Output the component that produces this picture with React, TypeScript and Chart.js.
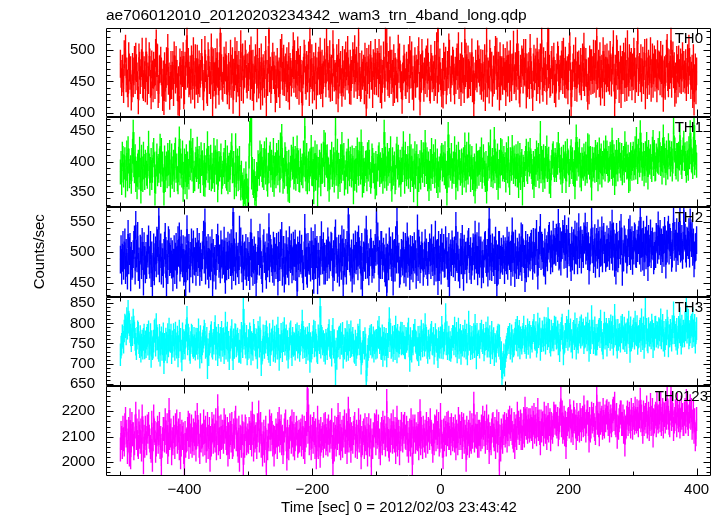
import React, { useEffect, useRef } from "react";
import { Chart, registerables } from "chart.js";

Chart.register(...registerables);

const TITLE = "ae706012010_20120203234342_wam3_trn_4band_long.qdp";
const X_LABEL = "Time [sec] 0 = 2012/02/03 23:43:42";
const Y_LABEL = "Counts/sec";

const START_TIME = -500;
const BIN_SEC = 1;

const TH0 = [
  478,462,449,470,455,438,493,481,502,455,466,447,431,490,472,459,468,426,439,473,447,466,484,452,489,471,458,444,420,488,475,452,463,479,497,445,441,468,460,439,
  497,471,435,458,452,490,480,446,428,477,461,439,475,464,444,495,510,457,487,430,438,469,470,483,466,448,425,461,419,474,456,440,482,466,503,451,458,427,443,476,
  444,459,476,433,491,468,453,484,462,441,418,452,405,480,467,445,476,463,490,428,436,475,459,494,523,462,481,447,451,469,437,485,470,443,498,460,429,487,464,451,
  486,438,452,477,447,462,473,495,468,442,426,456,500,471,461,437,433,490,479,452,459,444,504,468,414,480,448,457,481,429,465,496,462,450,435,474,527,458,471,443,
  440,467,483,452,472,491,451,436,455,473,428,459,494,446,470,482,421,464,457,498,466,439,492,455,448,476,417,463,509,441,474,488,437,469,462,493,478,454,445,472,
  457,475,486,443,499,460,441,478,426,453,468,487,470,439,512,465,445,481,453,427,488,458,434,471,461,446,476,500,416,462,449,484,532,455,467,438,452,474,489,460,
  475,452,423,469,438,481,461,447,466,430,495,472,503,459,450,486,449,468,472,441,482,455,439,490,427,473,465,448,461,479,506,454,493,462,447,476,444,499,480,435,
  470,484,455,438,412,461,467,494,486,452,443,476,455,470,491,433,517,463,460,487,437,456,474,442,468,489,428,466,450,475,483,451,497,444,452,478,431,460,469,496,
  463,447,511,472,484,458,446,493,440,467,470,441,509,480,456,462,458,436,487,470,423,495,464,453,476,449,432,484,448,461,479,443,491,474,458,500,466,453,436,478,
  435,462,468,490,479,446,501,471,456,483,444,458,528,449,473,440,444,477,459,464,470,436,489,457,407,481,452,468,486,445,471,492,459,466,430,479,474,451,495,463,
  450,481,476,447,495,468,438,485,429,454,462,491,467,440,515,472,511,459,449,476,446,499,478,452,478,462,433,487,438,473,466,445,463,439,502,470,488,461,455,444,
  421,458,469,486,472,449,444,475,455,464,487,438,500,477,461,491,443,452,426,469,482,446,470,462,463,484,498,443,418,471,454,495,477,458,440,466,452,480,485,447,
  496,473,459,441,437,486,473,455,469,460,441,492,449,470,506,437,534,455,467,480,458,448,431,465,429,489,475,457,483,436,450,476,461,504,494,452,440,469,466,483,
  478,450,436,467,452,481,488,459,506,444,462,472,433,490,470,453,466,438,517,463,489,471,445,485,446,460,474,449,471,496,439,467,414,441,458,478,462,455,493,470,
  485,464,451,479,443,456,478,440,459,487,425,470,518,447,466,461,437,494,481,456,475,432,448,469,452,484,500,459,497,443,463,475,426,490,442,466,468,451,487,459,
  458,481,433,462,491,448,470,477,439,493,456,441,472,466,508,452,455,474,442,488,510,459,476,437,431,470,463,485,480,453,495,466,464,495,429,472,447,460,474,444,
  503,468,460,445,425,472,486,458,469,480,441,497,452,463,479,437,488,471,516,450,440,482,457,466,476,455,435,490,533,461,470,446,449,476,484,453,466,489,438,462,
  431,456,472,491,484,443,455,469,458,477,492,452,497,465,446,483,445,460,468,436,471,489,506,458,410,447,459,472,486,463,441,498,460,440,475,467,477,454,450,481,
  442,470,488,457,505,449,464,481,463,440,427,466,436,485,479,451,479,468,452,494,454,473,493,446,522,459,461,478,447,490,434,462,470,445,498,471,433,486,467,455,
  488,463,456,477,451,492,472,448,467,483,509,456,415,470,444,501,494,459,476,438,459,485,430,468,476,452,489,474,440,497,462,441,509,466,448,487,457,475,481,442,
  472,458,497,481,438,466,455,492,531,449,468,473,455,487,440,464,483,452,474,495,428,461,496,444,466,478,451,469,498,440,463,488,446,472,485,456,479,463,439,493,
  458,477,475,450,492,468,447,486,424,461,468,443,470,494,503,457,447,479,460,469,515,446,478,491,461,474,432,458,437,484,471,447,485,463,454,480,452,472,490,455,
  476,461,453,479,441,465,487,452,502,481,467,444,459,470,430,487,418,455,472,436,466,
];

const TH1 = [
  383,397,366,412,405,378,391,403,362,389,414,372,421,401,377,384,390,368,402,417,448,395,385,408,371,381,359,393,399,375,420,386,352,407,388,371,412,392,374,399,
  394,381,376,405,430,393,365,387,402,374,386,411,418,395,349,368,396,409,380,392,386,401,425,379,418,388,396,370,349,406,371,389,396,377,410,398,380,415,362,383,
  409,376,388,399,371,410,419,386,393,372,367,404,437,382,401,393,378,414,355,379,401,367,392,408,359,396,384,375,414,390,433,402,388,418,369,381,372,395,404,387,
  420,392,376,405,384,369,411,397,398,382,364,410,363,378,390,401,429,386,405,374,391,407,372,394,376,385,418,371,406,399,383,416,354,380,397,388,395,409,367,376,
  381,395,402,384,415,377,373,406,367,389,394,371,398,412,426,385,386,397,359,378,426,364,389,401,372,389,405,374,357,381,362,358,345,369,351,347,380,360,340,352,
  338,409,446,452,471,375,387,366,361,384,349,356,342,379,372,398,392,381,414,396,408,387,378,402,374,413,401,383,419,372,363,394,385,406,412,378,399,390,371,418,
  363,389,395,377,410,398,382,415,389,370,427,393,441,402,368,386,376,411,404,380,397,368,355,399,353,378,389,407,404,391,420,375,384,405,373,393,422,384,398,371,
  370,401,387,382,393,377,414,395,458,388,372,410,367,385,396,372,401,396,423,381,380,404,351,392,414,373,390,408,346,387,378,399,395,364,409,384,386,412,431,379,
  427,398,394,408,372,386,355,375,399,391,412,379,383,403,370,395,463,381,398,417,360,394,384,371,408,385,428,399,389,410,365,382,375,396,401,368,417,390,380,404,
  392,378,406,389,351,402,373,384,405,370,419,396,381,412,397,383,432,391,362,405,369,380,386,397,398,372,411,388,415,399,379,368,377,409,402,385,394,376,359,397,
  365,392,388,406,411,379,395,384,386,402,368,393,448,377,404,388,373,410,381,396,402,385,421,372,355,403,390,381,396,367,374,409,420,391,407,378,382,399,363,386,
  404,387,429,398,368,412,392,380,391,405,376,393,425,371,408,389,379,401,354,383,413,376,397,408,337,392,371,385,398,375,415,394,386,411,400,379,431,397,384,403,
  372,396,356,381,400,373,418,392,384,408,395,377,416,386,369,401,361,379,388,370,393,406,410,388,407,395,382,413,376,381,349,397,444,378,402,393,389,410,376,385,
  396,384,421,395,358,407,383,372,412,390,399,381,385,401,366,394,403,378,427,389,370,412,391,383,427,396,408,371,391,405,374,387,364,393,352,380,409,376,397,398,
  381,399,404,387,419,376,386,408,395,381,371,397,352,372,389,411,406,393,432,379,388,402,377,390,436,385,401,396,374,409,358,384,399,377,418,398,416,388,392,405,
  387,395,370,411,402,385,421,378,366,403,397,389,423,398,384,406,393,380,408,392,378,413,361,386,410,374,395,400,349,391,387,379,397,405,417,388,384,412,403,396,
  418,401,392,384,375,397,361,388,400,379,414,403,389,410,377,392,446,385,405,399,371,408,386,376,405,393,422,387,392,404,368,381,361,390,399,409,413,395,387,402,
  394,387,411,399,428,410,402,391,383,404,369,385,407,396,393,413,369,388,417,401,398,379,384,406,416,392,403,384,380,398,359,411,440,389,412,403,396,417,378,394,
  372,403,394,389,409,396,381,412,391,385,426,399,424,391,405,378,357,404,388,394,403,386,415,407,387,411,372,392,419,383,401,409,378,397,391,414,401,388,422,400,
  414,397,386,405,388,412,407,392,435,381,394,408,366,399,380,415,399,388,418,401,411,394,389,410,382,398,405,386,429,403,412,391,393,407,369,395,372,411,398,389,
  405,412,390,398,421,391,436,408,384,417,402,395,447,402,411,389,396,410,380,397,413,386,428,404,375,415,401,399,408,392,387,420,431,397,415,388,389,409,404,401,
  418,399,429,411,397,405,383,418,440,394,409,402,382,414,399,391,426,408,414,396,404,413,388,401,465,422,419,397,391,410,410,388,412,406,443,415,399,392,406,419,
  430,405,411,397,386,413,398,389,421,408,447,416,403,401,392,420,459,398,415,407,394,
];

const TH2 = [
  488,505,470,491,512,478,495,516,471,499,483,462,530,487,502,509,459,494,478,481,497,512,521,470,545,498,490,527,476,485,463,506,503,479,517,494,452,510,486,472,
  494,479,506,498,521,487,480,512,466,495,449,476,508,469,492,503,482,519,515,486,560,474,497,508,470,492,484,465,499,511,525,481,446,497,471,520,515,484,489,501,
  480,497,459,483,505,471,493,509,463,488,520,499,526,475,487,514,491,482,505,468,474,503,451,490,538,477,496,507,457,494,482,516,500,472,513,486,485,501,468,493,
  517,484,497,509,468,493,482,476,495,512,529,488,549,470,503,496,478,507,464,483,503,477,491,515,440,499,475,486,489,462,507,494,524,505,481,490,472,513,498,480,
  498,486,519,473,455,501,477,494,511,479,496,508,484,515,462,489,566,476,500,492,469,510,488,482,493,471,537,499,518,488,474,506,461,493,495,478,507,468,483,502,
  476,494,461,510,532,482,499,468,488,503,471,491,450,478,486,512,502,485,524,497,479,471,457,506,515,489,495,477,463,508,482,493,541,474,506,499,490,484,473,511,
  468,502,491,479,509,487,452,511,494,476,515,495,527,468,483,504,457,492,470,513,486,481,502,469,520,497,489,508,472,485,511,477,499,514,476,490,436,503,494,482,
  513,491,487,506,481,472,461,495,540,483,508,470,465,509,492,486,496,475,518,497,478,512,455,488,523,479,497,504,454,493,481,468,504,486,528,499,487,510,470,493,
  470,489,498,476,518,503,480,495,492,511,509,484,459,497,476,519,531,488,502,473,483,506,467,492,506,478,521,500,447,515,485,482,499,470,512,494,562,508,490,485,
  475,498,457,482,508,470,489,513,487,494,511,477,521,502,496,488,462,509,448,476,495,491,516,479,537,505,480,492,469,484,500,515,501,473,484,496,480,489,507,501,
  571,503,526,486,458,497,479,512,512,479,493,501,490,474,467,508,434,491,489,477,518,495,503,483,476,510,452,497,499,475,520,488,551,506,488,493,465,470,482,499,
  497,485,511,472,482,509,467,496,526,481,501,490,461,505,478,487,504,474,492,510,488,497,463,484,539,476,514,503,472,489,495,511,493,468,482,495,515,486,500,479,
  468,494,487,508,500,479,523,491,484,503,469,486,529,475,497,499,453,512,476,488,507,470,516,493,491,507,481,482,520,496,502,478,466,509,445,491,498,484,513,502,
  482,497,503,476,543,492,489,511,475,483,464,500,509,487,522,479,460,506,487,494,495,472,501,513,517,489,478,502,471,485,493,508,502,478,529,495,488,510,469,487,
  526,481,498,503,464,495,481,472,498,510,512,489,483,499,467,516,555,477,506,493,476,508,490,484,503,471,519,497,445,490,470,512,512,479,488,501,490,486,505,496,
  471,502,492,487,519,478,503,511,494,496,468,505,534,483,510,492,466,514,487,479,501,495,479,508,485,490,526,476,523,500,497,489,458,512,474,497,507,482,494,503,
  492,509,514,495,478,517,491,488,516,502,530,483,462,511,497,520,540,494,511,507,496,485,483,516,470,499,505,492,511,522,527,506,487,513,498,490,529,503,504,517,
  501,524,519,507,548,493,496,518,485,511,512,530,522,496,538,509,497,522,481,515,534,500,509,491,476,519,493,510,515,487,529,504,503,526,487,512,541,497,513,520,
  488,514,507,497,526,521,542,503,509,527,494,510,470,492,503,516,552,505,518,489,499,523,481,508,517,496,531,512,482,519,499,501,536,490,520,525,505,511,491,498,
  521,499,508,517,494,528,513,504,547,493,526,514,483,508,470,525,511,490,497,512,529,503,540,518,468,497,492,521,516,506,505,488,500,515,532,502,538,494,511,520,
  486,512,503,526,523,498,497,514,507,520,529,503,558,491,515,517,493,529,484,508,519,495,537,513,476,522,500,506,531,497,512,518,510,487,494,511,497,525,522,504,
  544,511,518,530,502,516,489,507,520,499,535,521,480,513,506,528,537,503,524,517,512,491,498,525,566,509,527,514,491,533,509,502,527,518,551,506,509,522,496,511,
  569,527,524,506,498,519,517,512,533,498,549,524,515,531,501,516,482,495,508,509,520,
];

const TH3 = [
  722,741,748,769,765,753,781,796,792,774,812,788,830,803,797,780,771,757,789,772,808,791,776,760,748,737,763,779,775,752,742,767,731,746,756,738,760,771,739,754,
  742,763,770,748,779,737,751,772,718,755,737,741,756,780,784,746,797,761,762,739,733,770,721,752,764,735,749,774,702,748,735,761,751,729,772,744,786,758,755,771,
  727,754,743,772,758,735,776,749,741,766,719,742,781,758,760,731,709,774,738,757,752,738,769,783,815,749,771,762,735,728,752,771,768,745,740,763,744,736,761,750,
  760,738,784,752,716,767,739,729,749,756,766,781,773,740,744,763,690,734,722,748,754,769,777,743,738,758,751,775,792,736,763,751,722,770,741,747,763,733,778,760,
  745,762,727,749,801,738,764,776,733,753,712,741,759,766,782,735,712,759,740,772,770,744,756,761,748,730,731,757,728,775,767,742,836,763,772,750,741,768,724,737,
  757,741,774,765,724,752,748,735,783,770,760,746,739,759,715,778,766,743,789,756,697,728,734,769,751,740,768,753,779,764,747,737,730,772,722,749,758,761,781,733,
  744,766,730,751,769,738,788,760,710,745,742,773,755,732,776,757,787,748,759,769,736,755,716,738,761,774,779,742,722,763,745,751,748,736,770,759,774,741,753,768,
  733,749,758,771,806,740,765,756,742,762,727,745,764,736,751,773,705,750,731,739,752,767,781,744,778,758,746,731,727,769,760,752,843,741,768,763,749,755,733,747,
  726,758,749,737,761,770,782,745,740,753,721,768,785,741,757,729,668,736,713,755,744,762,766,739,772,751,750,775,716,744,738,760,757,733,779,748,735,770,759,742,
  779,745,752,763,746,731,728,756,722,740,748,771,765,749,783,737,701,724,730,752,753,738,762,746,655,697,718,735,742,760,767,749,770,741,745,764,731,752,756,738,
  758,741,779,765,790,752,761,738,737,769,720,751,763,736,747,760,719,748,742,775,812,757,773,740,745,766,733,752,768,737,791,759,729,770,754,743,752,764,776,749,
  775,752,749,768,740,739,763,755,761,774,786,744,708,762,737,731,755,749,770,771,783,756,752,738,734,765,722,747,766,736,781,757,744,772,760,746,797,758,763,740,
  728,756,745,739,759,771,778,750,748,763,726,744,772,758,755,735,717,762,741,753,764,740,790,769,739,751,758,774,822,749,777,737,751,766,735,752,733,741,760,768,
  767,749,788,762,744,775,729,751,786,740,759,770,725,755,746,768,759,743,781,758,738,771,724,748,803,760,768,737,750,765,739,754,772,742,795,761,714,773,747,752,
  756,741,773,764,781,757,752,770,734,749,760,776,762,743,789,758,743,767,727,751,778,739,756,762,722,748,744,731,754,766,771,745,769,738,712,727,664,689,703,722,
  696,718,732,741,748,760,765,752,773,738,750,769,731,757,744,748,761,775,783,759,790,746,767,780,739,764,758,751,766,773,791,757,752,768,740,762,784,750,771,778,
  741,768,763,756,777,782,795,764,760,777,743,753,798,767,774,786,735,761,757,779,769,758,788,771,751,787,776,762,812,769,783,754,746,781,759,766,773,759,791,775,
  788,763,766,779,749,771,732,758,775,787,796,764,724,751,755,773,767,790,782,760,806,768,773,784,756,757,741,775,780,762,799,770,738,785,762,753,771,778,789,766,
  794,771,775,784,752,766,768,788,776,759,799,773,733,781,752,764,817,776,781,752,763,789,748,770,748,762,771,781,785,767,806,778,758,750,739,772,801,763,774,785,
  746,772,767,785,779,760,794,777,765,791,748,768,820,774,782,759,741,783,760,770,772,756,791,779,795,764,763,788,757,771,774,752,784,776,803,767,730,789,759,765,
  769,781,786,763,803,775,771,792,750,766,768,780,786,757,809,773,762,789,740,768,838,776,785,759,754,787,772,770,777,764,796,781,742,773,761,790,791,768,778,775,
  766,787,784,771,809,764,781,795,758,778,745,762,783,774,806,788,744,769,769,783,774,758,792,776,826,791,777,770,761,785,750,766,790,779,812,772,751,793,768,780,
  781,769,802,784,845,778,790,808,764,772,779,791,796,767,812,781,770,795,753,776,787,
];

const TH0123 = [
  2050,2115,2095,2060,2135,2090,2070,2145,2170,2105,2120,2040,2085,2130,2030,2165,2020,2085,2150,2110,2110,2055,2075,2140,2190,2095,2125,2070,2060,2160,2100,2080,2125,2050,2180,2120,2000,2100,2065,2135,
  2095,2075,2140,2120,2150,2100,2085,2060,2045,2155,2010,2090,2180,2125,2115,2045,2070,2110,2135,2080,2115,2150,2060,2095,1985,2065,2090,2130,2130,2085,2165,2115,2080,2145,2040,2070,2205,2095,2105,2125,
  2035,2090,2075,2135,2100,2060,2145,2110,2160,2080,2095,2125,2055,2150,2020,2070,2120,2095,2110,2040,1975,2115,2065,2085,2090,2130,2155,2060,2145,2105,2080,2140,2065,2090,2125,2075,2110,2155,2050,2100,
  2185,2110,2120,2065,2040,2145,2085,2100,2105,2070,2160,2120,2075,2135,2045,2090,2150,2060,2100,2130,2010,2095,2070,2150,2125,2080,2140,2105,2085,2165,2055,2115,2220,2075,2135,2090,2060,2140,2095,2120,
  2100,2080,2165,2120,2140,2095,2075,2130,2030,2110,2060,2145,2115,2085,2150,2060,2070,2125,2100,2155,2175,2090,2125,2070,2045,2135,2010,2100,2095,2065,2140,2115,1990,2110,2065,2140,2130,2075,2085,2105,
  2080,2130,2115,2095,2155,2070,2190,2115,2050,2140,2085,2100,2110,2060,2145,2125,2195,2085,2120,2150,2065,2110,2030,2075,2120,2045,2095,2135,1960,2080,2055,2105,2090,2160,2135,2090,2145,2115,2070,2100,
  2030,2095,2080,2125,2105,2060,2150,2110,2170,2085,2115,2140,2075,2100,2040,2075,2125,2145,2160,2090,2015,2120,2090,2055,2100,2130,2135,2080,2160,2105,2070,2150,2055,2090,2110,2135,2115,2065,2080,2120,
  2085,2110,2125,2070,2140,2095,2060,2135,2040,2115,2105,2150,2290,2120,2180,2075,2095,2140,2055,2100,2130,2080,2150,2115,2060,2125,2020,2090,2175,2060,2120,2105,2025,2130,2085,2095,2110,2065,2145,2100,
  2150,2075,2090,2125,2070,2140,2115,2085,2120,2100,2165,2060,1995,2110,2050,2135,2100,2070,2130,2095,2185,2120,2075,2150,2055,2090,2120,2065,2135,2105,2160,2080,2080,2145,2040,2115,2210,2085,2105,2130,
  2045,2110,2095,2080,2115,2135,2150,2065,2090,2120,2060,2100,2165,2085,2120,2140,2020,2095,2075,2115,2125,2060,2145,2090,2075,2130,2030,2105,2145,2070,2100,2125,1980,2085,2060,2110,2105,2145,2140,2075,
  2160,2100,2115,2140,2060,2085,2035,2110,2130,2075,2155,2120,2095,2135,2070,2105,2240,2090,2130,2065,2050,2125,2085,2145,2115,2080,2160,2100,2085,2130,2040,2110,2175,2070,2120,2095,2035,2120,2090,2150,
  2110,2085,2140,2120,2150,2100,2095,2135,2070,2115,2045,2090,2125,2070,2165,2105,1990,2140,2080,2125,2140,2080,2110,2095,2090,2150,2055,2110,2200,2075,2130,2100,2060,2135,2105,2085,2120,2065,2150,2115,
  2080,2130,2125,2095,2165,2120,2110,2080,2045,2105,2075,2140,2135,2090,2160,2115,2100,2150,2070,2085,2185,2100,2120,2065,2020,2125,2090,2135,2115,2070,2150,2110,2155,2095,2095,2130,2075,2145,2110,2090,
  2130,2105,2085,2140,2055,2120,2105,2075,2170,2095,2140,2115,2095,2150,2060,2130,2145,2080,2120,2100,2010,2135,2075,2110,2120,2065,2155,2090,2080,2145,2100,2125,2230,2085,2140,2105,2100,2150,2065,2120,
  2065,2120,2110,2090,2140,2100,2175,2135,2110,2155,2080,2115,2180,2095,2125,2140,2040,2110,2095,2075,2125,2145,2150,2105,2090,2130,2060,2120,2160,2085,2115,2150,1965,2100,2050,2125,2105,2080,2140,2115,
  2150,2105,2120,2145,2085,2130,2160,2110,2175,2140,2130,2165,2115,2100,2085,2150,2060,2125,2140,2095,2190,2135,2155,2115,2130,2160,2095,2145,2095,2120,2170,2105,2210,2150,2135,2170,2120,2140,2165,2125,
  2165,2140,2130,2175,2100,2155,2185,2120,2140,2170,2110,2145,2205,2130,2160,2115,2075,2160,2125,2150,2155,2110,2190,2140,2120,2175,2095,2135,2185,2125,2150,2165,2090,2150,2135,2120,2145,2190,2180,2155,
  2180,2150,2140,2170,2110,2135,2165,2190,2250,2145,2195,2120,2135,2175,2110,2155,2060,2130,2150,2165,2170,2140,2200,2180,2125,2160,2145,2115,2195,2170,2160,2140,2095,2185,2130,2150,2155,2125,2185,2165,
  2130,2165,2175,2145,2215,2180,2150,2125,2160,2195,2195,2150,2085,2170,2125,2140,2190,2160,2170,2185,2145,2130,2115,2175,2265,2155,2190,2145,2110,2190,2155,2165,2175,2135,2205,2150,2140,2180,2165,2195,
  2200,2175,2150,2190,2125,2160,2180,2145,2165,2200,2210,2170,2230,2155,2145,2185,2100,2140,2135,2165,2180,2195,2195,2150,2150,2180,2120,2160,2070,2135,2140,2175,2195,2150,2170,2190,2160,2140,2205,2170,
  2135,2185,2175,2155,2210,2170,2160,2200,2170,2145,2195,2180,2245,2165,2180,2150,2120,2195,2150,2175,2185,2160,2215,2140,2155,2190,2130,2170,2225,2150,2175,2205,2105,2165,2160,2180,2190,2145,2230,2175,
  2160,2180,2195,2165,2230,2150,2170,2205,2140,2190,2185,2160,2200,2175,2250,2195,2175,2155,2145,2210,2280,2170,2200,2185,2130,2160,2170,2200,2195,2145,2225,2180,2165,2195,2140,2165,2215,2175,2185,2150,
  2150,2190,2205,2160,2240,2185,2175,2150,2180,2200,2220,2175,2205,2135,2160,2195,2120,2165,2090,2110,2170,
];

// 1-sigma error bar half-length (counts/sec) of each 1 s bin, one per band
const BAND_ERRORS = [21.5, 19.8, 22.3, 27.4, 45.8];

const BAND_NAMES = ["TH0", "TH1", "TH2", "TH3", "TH0123"];
const BAND_VALUES = [TH0, TH1, TH2, TH3, TH0123];
const BAND_COLORS = ["#ff0000", "#00ff00", "#0000ff", "#00ffff", "#ff00ff"];
const Y_MIN = [393.2, 326.1, 427.4, 643.3, 1946];
const Y_MAX = [535.2, 472.2, 574.3, 866.6, 2298];
const Y_STEP = [50, 50, 50, 50, 100];
const X_MIN = -522.5;
const X_MAX = 422.5;
const X_MAJOR = 200;
const X_MINOR = 100;

const FONT = "'Liberation Sans', Arial, Helvetica, sans-serif";

const fmt = (v: number) => String(v).replace("-", "\u2212");

const qdpPlugin = {
  id: "qdpFrames",
  beforeDatasetDraw(chart: any, args: any) {
    const ds = chart.data.datasets[args.index];
    const s = chart.scales[ds.yAxisID];
    const ca = chart.chartArea;
    const ctx = chart.ctx;
    ctx.save();
    ctx.beginPath();
    ctx.rect(ca.left, s.top, ca.right - ca.left, s.bottom - s.top);
    ctx.clip();
  },
  afterDatasetDraw(chart: any) {
    chart.ctx.restore();
  },
  afterDraw(chart: any) {
    const ctx = chart.ctx;
    const ca = chart.chartArea;
    const xs = chart.scales.x;
    ctx.save();
    ctx.strokeStyle = "#000";
    ctx.lineWidth = 1;
    BAND_NAMES.forEach((name, k) => {
      const s = chart.scales["y" + k];
      const top = Math.round(s.top) + 0.5;
      const bot = Math.round(s.bottom) - 0.5;
      const l = Math.round(ca.left) + 0.5;
      const r = Math.round(ca.right) - 0.5;
      ctx.beginPath();
      ctx.rect(l, top, r - l, bot - top);
      ctx.stroke();
      const step = Y_STEP[k];
      const minor = step / 5;
      ctx.beginPath();
      for (let v = Math.ceil(Y_MIN[k] / minor) * minor; v <= Y_MAX[k]; v += minor) {
        const y = Math.round(s.getPixelForValue(v)) + 0.5;
        const isMajor = Math.abs(v / step - Math.round(v / step)) < 1e-6;
        const len = isMajor ? 7 : 4;
        ctx.moveTo(l, y);
        ctx.lineTo(l + len, y);
        ctx.moveTo(r, y);
        ctx.lineTo(r - len, y);
      }
      for (let v = Math.ceil(X_MIN / X_MINOR) * X_MINOR; v <= X_MAX; v += X_MINOR) {
        const x = Math.round(xs.getPixelForValue(v)) + 0.5;
        const isMajor = Math.abs(v % X_MAJOR) < 1e-6;
        const len = isMajor ? 7 : 4;
        ctx.moveTo(x, top);
        ctx.lineTo(x, top + len);
        ctx.moveTo(x, bot);
        ctx.lineTo(x, bot - len);
      }
      ctx.stroke();
      ctx.fillStyle = "#000";
      ctx.font = "15px " + FONT;
      ctx.textAlign = "right";
      ctx.textBaseline = "middle";
      ctx.fillText(name, k === 4 ? 708 : 703, s.top + 11);
    });
    ctx.fillStyle = "#000";
    ctx.font = "15px " + FONT;
    ctx.textAlign = "center";
    ctx.textBaseline = "middle";
    ctx.fillText(X_LABEL, 399, 508);
    ctx.restore();
  },
};

export default function App() {
  const ref = useRef<HTMLCanvasElement | null>(null);

  useEffect(() => {
    if (!ref.current) return;
    const datasets: any[] = [];
    BAND_VALUES.forEach((vals, k) => {
      datasets.push({
        type: "line",
        label: BAND_NAMES[k],
        data: vals.map((v, i) => ({ x: START_TIME + BIN_SEC * i, y: v })),
        borderColor: BAND_COLORS[k],
        backgroundColor: BAND_COLORS[k],
        borderWidth: 1,
        pointRadius: 0,
        tension: 0,
        fill: false,
        yAxisID: "y" + k,
        order: 0,
      });
      datasets.push({
        type: "bar",
        label: BAND_NAMES[k] + " error",
        data: vals.map((v, i) => ({
          x: START_TIME + BIN_SEC * i,
          y: [v - BAND_ERRORS[k], v + BAND_ERRORS[k]],
        })),
        backgroundColor: BAND_COLORS[k],
        borderWidth: 0,
        barThickness: 0.7,
        grouped: false,
        yAxisID: "y" + k,
        order: 1,
      });
    });

    const scales: any = {
      x: {
        type: "linear",
        position: "bottom",
        min: X_MIN,
        max: X_MAX,
        offset: false,
        afterFit: (s: any) => {
          s.height = 40;
        },
        ticks: {
          stepSize: X_MAJOR,
          includeBounds: false,
          autoSkip: false,
          maxRotation: 0,
          padding: 5,
          color: "#000",
          font: { size: 15, family: FONT },
          callback: (v: any) => fmt(v),
        },
        grid: { display: false, drawTicks: false, offset: false },
        border: { display: false },
      },
    };
    BAND_NAMES.forEach((_, k) => {
      scales["y" + k] = {
        type: "linear",
        position: "left",
        stack: "panels",
        stackWeight: 1,
        weight: 5 - k,
        min: Y_MIN[k],
        max: Y_MAX[k],
        beginAtZero: false,
        afterFit: (s: any) => {
          s.width = 106;
        },
        ticks: {
          stepSize: Y_STEP[k],
          includeBounds: false,
          autoSkip: false,
          padding: 11,
          color: "#000",
          font: { size: 15, family: FONT },
          callback: (v: any) => fmt(v),
        },
        grid: { display: false, drawTicks: false },
        border: { display: false },
        title:
          k === 2
            ? {
                display: true,
                text: Y_LABEL,
                color: "#000",
                font: { size: 15, family: FONT },
                padding: { top: 31, bottom: 0 },
              }
            : { display: false },
      };
    });

    const chart = new Chart(ref.current, {
      type: "line",
      data: { datasets },
      options: {
        animation: false,
        responsive: false,
        devicePixelRatio: 1,
        layout: { padding: { left: 0, right: 12, top: 0, bottom: 0 } },
        scales,
        plugins: {
          legend: { display: false },
          tooltip: { enabled: false },
          title: {
            display: true,
            text: TITLE,
            align: "start",
            fullSize: false,
            color: "#000",
            font: { size: 15.5, family: FONT, weight: "normal" },
            padding: { top: 6, bottom: 3 },
          },
        },
        events: [],
      } as any,
      plugins: [qdpPlugin],
    });
    return () => chart.destroy();
  }, []);

  return (
    <div style={{ position: "absolute", left: 0, top: 0, width: 723, height: 516, background: "#fff" }}>
      <canvas ref={ref} width={723} height={516} style={{ display: "block" }} />
    </div>
  );
}
